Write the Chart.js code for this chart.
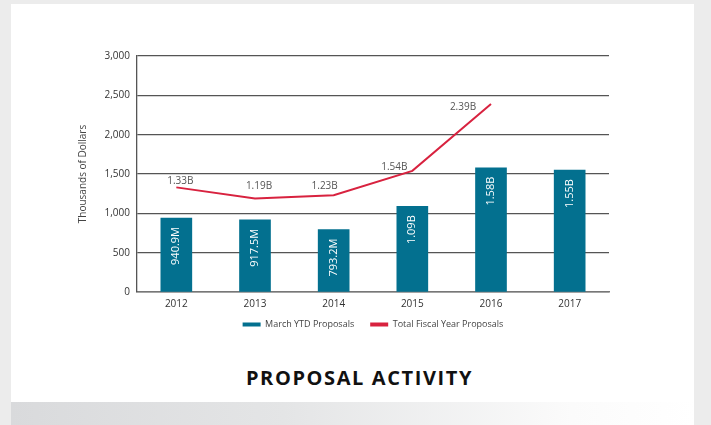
<!DOCTYPE html>
<html>
<head>
<meta charset="utf-8">
<title>Proposal Activity</title>
<script src="https://cdn.jsdelivr.net/npm/chart.js@4.4.1/dist/chart.umd.min.js"></script>
<style>
  html, body { margin: 0; padding: 0; }
  body {
    width: 711px; height: 425px; overflow: hidden; position: relative;
    background: #ececec; font-family: 'Open Sans', sans-serif;
  }
  #card { position: absolute; left: 11px; top: 4px; width: 683px; height: 421px; background: #fff; }
  #band {
    position: absolute; left: 0; top: 398px; width: 100%; height: 23px;
    background: linear-gradient(to right, #d9dadc 0%, #e4e5e6 40%, #fbfbfb 82%, #fff 100%);
  }
  #wrap { position: absolute; left: 0; top: 0; width: 711px; height: 350px; }
  #title {
    position: absolute; left: 4px; top: 364px; width: 711px; text-align: center;
    font-weight: 700; font-size: 20px; color: #111; letter-spacing: 1.6px;
  }
</style>
</head>
<body>
<div id="card"><div id="band"></div></div>
<div id="wrap"><canvas id="proposalChart"></canvas></div>
<div id="title">PROPOSAL ACTIVITY</div>

<script>
// Chart data
const years = ['2012', '2013', '2014', '2015', '2016', '2017'];
const marchYtd = [940.9, 917.5, 793.2, 1090, 1580, 1550];
const marchYtdLabels = ['940.9M', '917.5M', '793.2M', '1.09B', '1.58B', '1.55B'];
const fiscalTotal = [1330, 1190, 1230, 1540, 2390, null];
const fiscalTotalLabels = ['1.33B', '1.19B', '1.23B', '1.54B', '2.39B', ''];
const yTicks = [0, 500, 1000, 1500, 2000, 2500, 3000];

// label nudges (dx, dy from the point) for the line labels
const lineLabelNudge = [[4, -6], [4, -12], [-9, -9], [-18, -4], [-28, 3]];

const BAR_COLOR = '#03708f';
const LINE_COLOR = '#d8223f';

// Draw value labels on bars and line points
const valueLabels = {
  id: 'valueLabels',
  afterDatasetsDraw(chart) {
    const ctx = chart.ctx;
    ctx.save();

    // bar labels: white, rotated, just under the bar top
    const barMeta = chart.getDatasetMeta(0);
    ctx.fillStyle = '#ffffff';
    ctx.font = '500 11px "Open Sans", sans-serif';
    ctx.textAlign = 'right';
    ctx.textBaseline = 'middle';
    barMeta.data.forEach((bar, i) => {
      ctx.save();
      ctx.translate(bar.x, bar.y + 9);
      ctx.rotate(-Math.PI / 2);
      ctx.fillText(marchYtdLabels[i], 0, 0);
      ctx.restore();
    });

    // line labels: grey, above the points
    const lineMeta = chart.getDatasetMeta(1);
    ctx.fillStyle = '#555555';
    ctx.font = '10px "Open Sans", sans-serif';
    ctx.textAlign = 'center';
    lineMeta.data.forEach((pt, i) => {
      if (fiscalTotal[i] == null) return;
      const nudge = lineLabelNudge[i] || [0, -8];
      ctx.fillText(fiscalTotalLabels[i], pt.x + nudge[0], pt.y + nudge[1]);
    });

    ctx.restore();
  }
};

// Center the legend under the plot area and pull it up closer to the axis
const legendUnderPlot = {
  id: 'legendUnderPlot',
  beforeDraw(chart) {
    const legend = chart.legend;
    if (!legend) return;
    const h = legend.bottom - legend.top;
    legend.left = chart.chartArea.left;
    legend.right = chart.chartArea.right;
    legend.width = legend.right - legend.left;
    legend.top = chart.scales.x.bottom - 10;
    legend.bottom = legend.top + h;
    legend.adjustHitBoxes();
  }
};

const ctx = document.getElementById('proposalChart').getContext('2d');
new Chart(ctx, {
  type: 'bar',
  data: {
    labels: years,
    datasets: [
      {
        label: 'March YTD Proposals',
        data: marchYtd,
        backgroundColor: BAR_COLOR,
        barThickness: 31,
        order: 2
      },
      {
        type: 'line',
        label: 'Total Fiscal Year Proposals',
        data: fiscalTotal,
        borderColor: LINE_COLOR,
        backgroundColor: LINE_COLOR,
        borderWidth: 2,
        pointRadius: 0,
        tension: 0,
        spanGaps: false,
        order: 1
      }
    ]
  },
  options: {
    responsive: true,
    maintainAspectRatio: false,
    animation: false,
    layout: { padding: { left: 77, right: 102, top: 56, bottom: 1 } },
    plugins: {
      tooltip: { enabled: false },
      legend: {
        position: 'bottom',
        labels: {
          color: '#444',
          font: { family: 'Open Sans', size: 9 },
          boxWidth: 18,
          boxHeight: 4,
          padding: 16,
          sort: (a, b) => a.datasetIndex - b.datasetIndex,
          generateLabels(chart) {
            const items = Chart.defaults.plugins.legend.labels.generateLabels(chart);
            items.forEach(it => { it.lineWidth = 0; it.strokeStyle = 'transparent'; });
            return items;
          }
        }
      }
    },
    scales: {
      x: {
        grid: { display: false, drawTicks: false },
        border: { display: true, color: '#777', width: 1.5 },
        ticks: { color: '#333', font: { family: 'Open Sans', size: 10 }, padding: 6 },
        afterFit(scale) { scale.height = 22; }
      },
      y: {
        min: 0,
        max: 3000,
        afterBuildTicks(scale) { scale.ticks = yTicks.map(v => ({ value: v })); },
        grid: { color: '#555', lineWidth: 1.3, drawTicks: false },
        border: { display: true, color: '#555', width: 1.3 },
        ticks: {
          color: '#333',
          font: { family: 'Open Sans', size: 10 },
          padding: 7,
          callback: v => v.toLocaleString('en-US')
        },
        title: {
          display: true,
          text: 'Thousands of Dollars',
          color: '#444',
          font: { family: 'Open Sans', size: 10 },
          padding: { top: 0, bottom: 0 }
        },
        afterFit(scale) { scale.width = 60; }
      }
    }
  },
  plugins: [valueLabels, legendUnderPlot]
});
</script>
</body>
</html>
